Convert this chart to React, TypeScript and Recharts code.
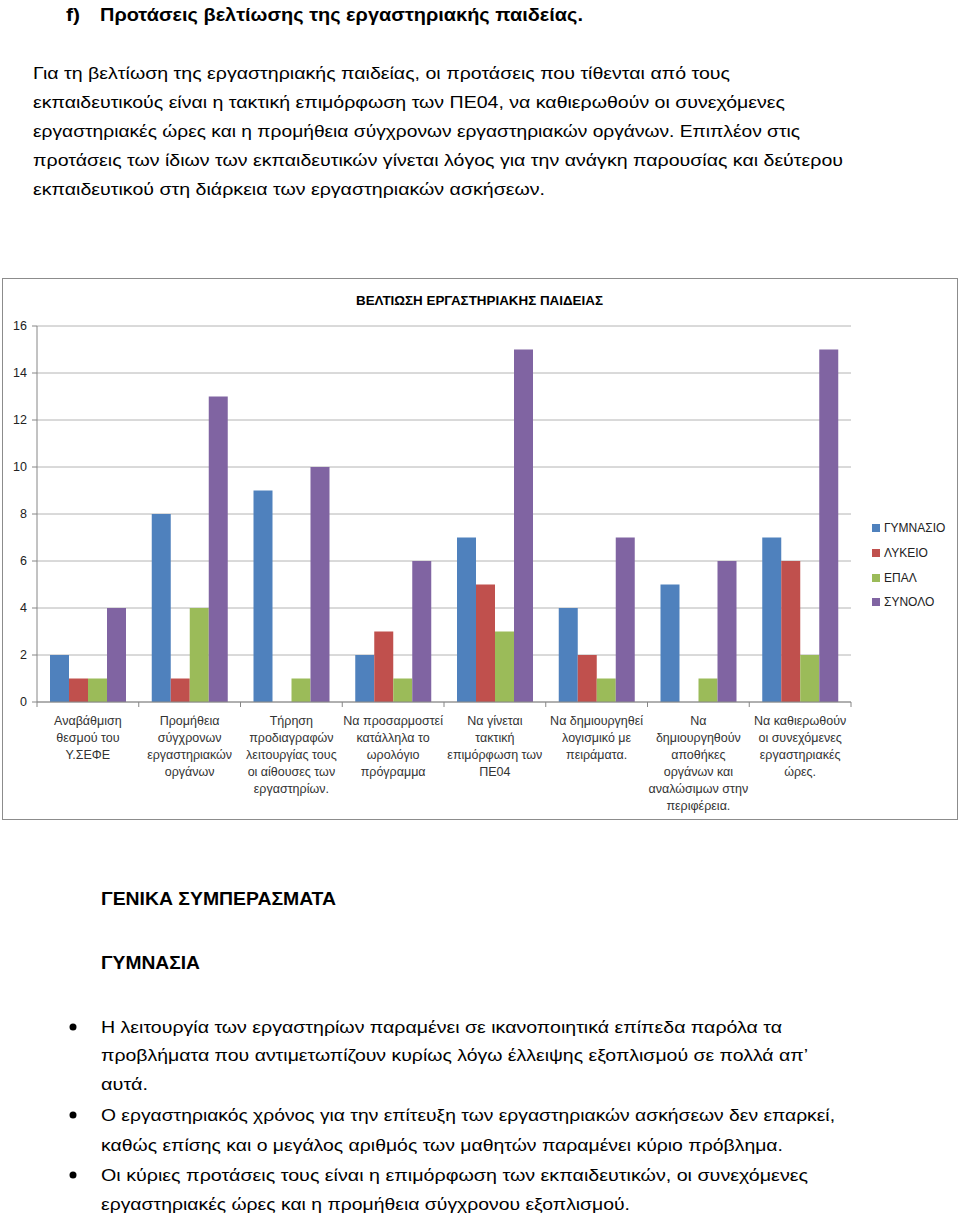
import React from "react";
import { BarChart, Bar, XAxis, YAxis, CartesianGrid } from "recharts";

const CATEGORIES = [
  "Αναβάθμιση\nθεσμού του\nΥ.ΣΕΦΕ",
  "Προμήθεια\nσύγχρονων\nεργαστηριακών\nοργάνων",
  "Τήρηση\nπροδιαγραφών\nλειτουργίας τους\nοι αίθουσες των\nεργαστηρίων.",
  "Να προσαρμοστεί\nκατάλληλα το\nωρολόγιο\nπρόγραμμα",
  "Να γίνεται\nτακτική\nεπιμόρφωση των\nΠΕ04",
  "Να δημιουργηθεί\nλογισμικό με\nπειράματα.",
  "Να\nδημιουργηθούν\nαποθήκες\nοργάνων και\nαναλώσιμων στην\nπεριφέρεια.",
  "Να καθιερωθούν\nοι συνεχόμενες\nεργαστηριακές\nώρες.",
];

const GYMNASIO = [2, 8, 9, 2, 7, 4, 5, 7];
const LYKEIO = [1, 1, 0, 3, 5, 2, 0, 6];
const EPAL = [1, 4, 1, 1, 3, 1, 1, 2];
const SYNOLO = [4, 13, 10, 6, 15, 7, 6, 15];

const Y_TICKS = [0, 2, 4, 6, 8, 10, 12, 14, 16];

const SERIES = [
  { key: "gym", name: "ΓΥΜΝΑΣΙΟ", color: "#4F81BD", values: GYMNASIO },
  { key: "lyk", name: "ΛΥΚΕΙΟ", color: "#C0504D", values: LYKEIO },
  { key: "epal", name: "ΕΠΑΛ", color: "#9BBB59", values: EPAL },
  { key: "syn", name: "ΣΥΝΟΛΟ", color: "#8064A2", values: SYNOLO },
];

const chartData = CATEGORIES.map((name, i) => {
  const row: Record<string, string | number> = { name };
  SERIES.forEach((s) => (row[s.key] = s.values[i]));
  return row;
});

const CHART_W = 954;
const CHART_H = 540;
const MARGIN = { top: 47, right: 106, bottom: 7, left: 10 };
const PLOT_W = CHART_W - MARGIN.left - 24 - MARGIN.right;
const HALF_BAND = PLOT_W / CATEGORIES.length / 2;
const AXIS_COLOR = "#868686";
const GRID_COLOR = "#b4b4b4";
const LABEL_FONT = "'Liberation Sans', Arial, sans-serif";
const BODY_FONT = "'Liberation Sans', Arial, sans-serif";

function CategoryTick(props: any) {
  const { x, y, payload, index } = props;
  const lines = String(payload.value).split("\n");
  return (
    <g>
      <line x1={x - HALF_BAND} x2={x - HALF_BAND} y1={y} y2={y + 5} stroke={AXIS_COLOR} />
      {index === CATEGORIES.length - 1 && (
        <line x1={x + HALF_BAND} x2={x + HALF_BAND} y1={y} y2={y + 5} stroke={AXIS_COLOR} />
      )}
      <text x={x} y={y + 23} textAnchor="middle" fontSize={12.5} fill="#333" fontFamily={LABEL_FONT}>
        {lines.map((l, i) => (
          <tspan key={i} x={x} dy={i === 0 ? 0 : 17}>
            {l}
          </tspan>
        ))}
      </text>
    </g>
  );
}

// page text lines: [text, x, baseline, width]
const HEADING: [string, number, number, number][] = [
  ["f)", 66, 21, 14],
  ["Προτάσεις βελτίωσης της εργαστηριακής παιδείας.", 100, 21, 483],
];

const INTRO: [string, number, number, number][] = [
  ["Για τη βελτίωση της εργαστηριακής παιδείας, οι προτάσεις που τίθενται από τους", 33, 79, 697],
  ["εκπαιδευτικούς είναι η τακτική επιμόρφωση των ΠΕ04, να καθιερωθούν οι συνεχόμενες", 33, 108, 752],
  ["εργαστηριακές ώρες και η προμήθεια σύγχρονων εργαστηριακών οργάνων. Επιπλέον στις", 33, 137, 767],
  ["προτάσεις των ίδιων των εκπαιδευτικών γίνεται λόγος για την ανάγκη παρουσίας και δεύτερου", 33, 166, 810],
  ["εκπαιδευτικού στη διάρκεια των εργαστηριακών ασκήσεων.", 33, 195, 512],
];

const SUBHEADS: [string, number, number, number][] = [
  ["ΓΕΝΙΚΑ ΣΥΜΠΕΡΑΣΜΑΤΑ", 101, 905, 235],
  ["ΓΥΜΝΑΣΙΑ", 101, 969, 99],
];

const BULLET_LINES: [string, number, number, number][] = [
  ["Η λειτουργία των εργαστηρίων παραμένει σε ικανοποιητικά επίπεδα παρόλα τα", 101, 1033, 681],
  ["προβλήματα που αντιμετωπίζουν κυρίως λόγω έλλειψης εξοπλισμού σε πολλά απ’", 101, 1061, 707],
  ["αυτά.", 101, 1090, 47],
  ["Ο εργαστηριακός χρόνος για την επίτευξη των εργαστηριακών ασκήσεων δεν επαρκεί,", 101, 1121, 734],
  ["καθώς επίσης και ο μεγάλος αριθμός των μαθητών παραμένει κύριο πρόβλημα.", 101, 1151, 682],
  ["Οι κύριες προτάσεις τους είναι η επιμόρφωση των εκπαιδευτικών, οι συνεχόμενες", 101, 1181, 707],
  ["εργαστηριακές ώρες και η προμήθεια σύγχρονου εξοπλισμού.", 101, 1210, 529],
];

const BULLET_Y = [1027, 1115, 1175];

function TextLine({ t, bold, size }: { t: [string, number, number, number]; bold?: boolean; size: number }) {
  return (
    <text
      x={t[1]}
      y={t[2]}
      textLength={t[3]}
      lengthAdjust="spacingAndGlyphs"
      fontSize={size}
      fontWeight={bold ? "bold" : "normal"}
      fontFamily={BODY_FONT}
      fill="#000"
    >
      {t[0]}
    </text>
  );
}

export default function App() {
  return (
    <div style={{ position: "absolute", left: 0, top: 0, width: 960, height: 1218, background: "#fff" }}>
      <div
        style={{
          position: "absolute",
          left: 2,
          top: 278,
          width: CHART_W,
          height: CHART_H,
          border: "1px solid #8c8c8c",
        }}
      >
        <BarChart
          width={CHART_W}
          height={CHART_H}
          data={chartData}
          margin={MARGIN}
          barCategoryGap={13}
          barGap={0}
        >
          <CartesianGrid vertical={false} stroke={GRID_COLOR} strokeWidth={1} />
          <XAxis
            dataKey="name"
            interval={0}
            height={110}
            tickSize={0}
            tickMargin={0}
            tickLine={false}
            axisLine={{ stroke: AXIS_COLOR }}
            tick={<CategoryTick />}
          />
          <YAxis
            width={24}
            domain={[0, 16]}
            ticks={Y_TICKS}
            interval={0}
            tickSize={5}
            tickMargin={5}
            tickLine={{ stroke: AXIS_COLOR }}
            axisLine={{ stroke: AXIS_COLOR }}
            tick={{ fontSize: 12.5, fill: "#222", fontFamily: LABEL_FONT }}
          />
          {SERIES.map((s) => (
            <Bar key={s.key} dataKey={s.key} name={s.name} fill={s.color} isAnimationActive={false} />
          ))}
        </BarChart>
        {/* Legend */}
        <div style={{ position: "absolute", left: 869, top: 237, fontFamily: LABEL_FONT, fontSize: 12 }}>
          {SERIES.map((s) => (
            <div key={s.key} style={{ display: "flex", alignItems: "center", height: 24.7 }}>
              <div style={{ width: 8, height: 8, background: s.color, marginRight: 4 }} />
              <span style={{ color: "#222" }}>{s.name}</span>
            </div>
          ))}
        </div>
      </div>

      <svg
        width={960}
        height={1218}
        style={{ position: "absolute", left: 0, top: 0, pointerEvents: "none" }}
      >
        {HEADING.map((t, i) => (
          <TextLine key={"h" + i} t={t} bold size={18} />
        ))}
        {INTRO.map((t, i) => (
          <TextLine key={"p" + i} t={t} size={17} />
        ))}
        <text
          x={356}
          y={305}
          textLength={247}
          lengthAdjust="spacingAndGlyphs"
          fontSize={13}
          fontWeight="bold"
          fontFamily={BODY_FONT}
        >
          ΒΕΛΤΙΩΣΗ ΕΡΓΑΣΤΗΡΙΑΚΗΣ ΠΑΙΔΕΙΑΣ
        </text>
        {SUBHEADS.map((t, i) => (
          <TextLine key={"s" + i} t={t} bold size={18} />
        ))}
        {BULLET_Y.map((y, i) => (
          <circle key={"b" + i} cx={73} cy={y} r={3.5} fill="#000" />
        ))}
        {BULLET_LINES.map((t, i) => (
          <TextLine key={"l" + i} t={t} size={17} />
        ))}
      </svg>
    </div>
  );
}
